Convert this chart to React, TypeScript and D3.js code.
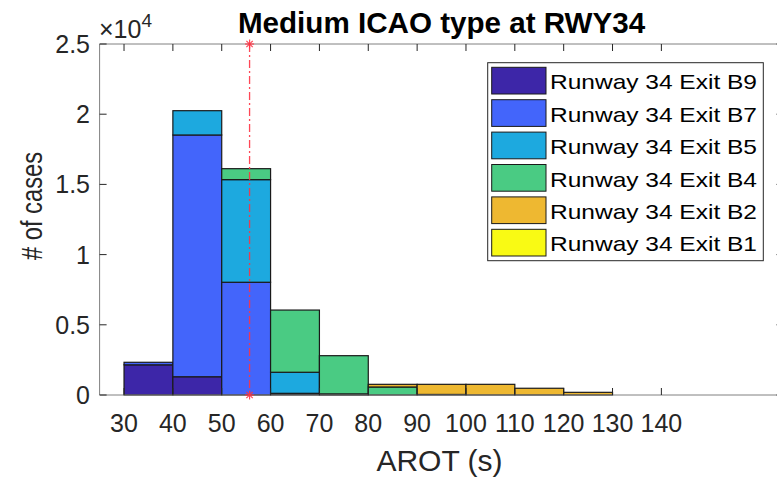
import React from "react";
import * as d3 from "d3";

// ---- data ----
const binStarts = [30, 40, 50, 60, 70, 80, 90, 100, 110, 120];
const binWidth = 10;
const seriesNames = [
  "Runway 34 Exit B9",
  "Runway 34 Exit B7",
  "Runway 34 Exit B5",
  "Runway 34 Exit B4",
  "Runway 34 Exit B2",
  "Runway 34 Exit B1",
];
const exitB9 = [2150, 1300, 0, 60, 20, 0, 0, 0, 0, 0];
const exitB7 = [180, 17220, 8030, 60, 20, 0, 0, 0, 0, 0];
const exitB5 = [0, 1730, 7310, 1500, 40, 0, 0, 0, 0, 0];
const exitB4 = [0, 0, 780, 4430, 2720, 570, 40, 0, 0, 0];
const exitB2 = [0, 0, 0, 0, 0, 190, 720, 760, 480, 190];
const exitB1 = [0, 0, 0, 0, 0, 0, 0, 0, 0, 0];
const seriesValues = [exitB9, exitB7, exitB5, exitB4, exitB2, exitB1];
const seriesColors = ["#3D26A8", "#4365FB", "#1DA9DF", "#4ACB83", "#EEB831", "#F9FA14"];
const xTicks = [30, 40, 50, 60, 70, 80, 90, 100, 110, 120, 130, 140];
const yTicks = [0, 5000, 10000, 15000, 20000, 25000];
const yTickLabels = ["0", "0.5", "1", "1.5", "2", "2.5"];
const medianArot = 55.7;
const titleText = "Medium ICAO type at RWY34";
const xLabel = "AROT (s)";
const yLabel = "# of cases";

const W = 777;
const H = 477;
const FONT = "'Liberation Sans', Arial, Helvetica, sans-serif";

export default function App() {
  const left = 99.6;
  const top = 44;
  const bottom = 395;
  const x = d3.scaleLinear().domain([25, 165]).range([left, left + 140 * 4.885]);
  const y = d3.scaleLinear().domain([0, 25000]).range([bottom, top]);
  const right = x(165);

  const table = binStarts.map((b, i) => {
    const row: any = { bin: b };
    seriesNames.forEach((n, k) => (row[n] = seriesValues[k][i]));
    return row;
  });
  const stacked = d3.stack<any>().keys(seriesNames)(table);

  const tickLen = 7;
  const axisColor = "#262626";

  const star = (cx: number, cy: number, r: number) =>
    [0, 45, 90, 135].map((a) => {
      const rad = (a * Math.PI) / 180;
      return (
        <line
          key={a}
          x1={cx - r * Math.cos(rad)}
          y1={cy - r * Math.sin(rad)}
          x2={cx + r * Math.cos(rad)}
          y2={cy + r * Math.sin(rad)}
        />
      );
    });

  const legX = 487.7;
  const legY = 62.7;
  const legW = 275.6;
  const legH = 198;
  const rowPitch = 32.4;

  return (
    <svg
      width={W}
      height={H}
      style={{ position: "absolute", left: 0, top: 0, background: "#fff" }}
      fontFamily={FONT}
    >
      <rect x={0} y={0} width={W} height={H} fill="#fff" />
      {/* bars */}
      <g>
        {stacked.map((s, k) =>
          s.map((d, i) =>
            d[1] - d[0] > 0 ? (
              <rect
                key={`${k}-${i}`}
                x={x(binStarts[i])}
                y={y(d[1])}
                width={x(binStarts[i] + binWidth) - x(binStarts[i])}
                height={y(d[0]) - y(d[1])}
                fill={seriesColors[k]}
                stroke="#1a1a1a"
                strokeWidth={1.2}
              />
            ) : null
          )
        )}
      </g>
      {/* axes box */}
      <g stroke={axisColor} strokeWidth={1} fill="none">
        <line x1={left} y1={bottom} x2={right} y2={bottom} stroke="#808080" />
        <line x1={left} y1={top} x2={right} y2={top} stroke="#808080" />
        <line x1={left} y1={top} x2={left} y2={bottom} stroke="#808080" />
        <line x1={right} y1={top} x2={right} y2={bottom} stroke="#808080" />
        {xTicks.map((t) => (
          <g key={t}>
            <line x1={x(t)} y1={bottom} x2={x(t)} y2={bottom - tickLen} />
            <line x1={x(t)} y1={top} x2={x(t)} y2={top + tickLen} />
          </g>
        ))}
        {yTicks.map((t) => (
          <g key={t}>
            <line x1={left} y1={y(t)} x2={left + tickLen} y2={y(t)} />
            <line x1={right} y1={y(t)} x2={right - tickLen} y2={y(t)} />
          </g>
        ))}
      </g>
      {/* median line */}
      <g stroke="#ff3344" strokeOpacity={0.9} fill="none">
        <line
          x1={x(medianArot)}
          y1={y(25000)}
          x2={x(medianArot)}
          y2={y(0)}
          strokeWidth={1.3}
          strokeDasharray="8 3 2 3"
        />
        <g strokeWidth={1.2}>
          {star(x(medianArot), y(25000), 4.5)}
          {star(x(medianArot), y(0), 4.5)}
        </g>
      </g>
      {/* tick labels */}
      <g fill={axisColor} fontSize={25}>
        {xTicks.map((t) => (
          <text key={t} x={x(t)} y={431.5} textAnchor="middle">
            {t}
          </text>
        ))}
        {yTicks.map((t, i) => (
          <text key={t} x={90} y={y(t) + 9} textAnchor="end">
            {yTickLabels[i]}
          </text>
        ))}
      </g>
      {/* exponent */}
      <text x={99} y={37.5} fontSize={25} fill={axisColor}>
        ×10
        <tspan fontSize={19} dy={-11}>
          4
        </tspan>
      </text>
      {/* title */}
      <text
        x={(left + right) / 2}
        y={33}
        textAnchor="middle"
        fontSize={29.6}
        fontWeight="bold"
        fill="#000"
      >
        {titleText}
      </text>
      {/* axis labels */}
      <text x={439.5} y={470.5} textAnchor="middle" fontSize={30} fill={axisColor}>
        {xLabel}
      </text>
      <text
        transform="translate(41.5,206) rotate(-90)"
        textAnchor="middle"
        fontSize={29}
        fill={axisColor}
        textLength={108}
        lengthAdjust="spacingAndGlyphs"
      >
        {yLabel}
      </text>
      {/* legend */}
      <g>
        <rect x={legX} y={legY} width={legW} height={legH} fill="#fff" stroke="#262626" strokeWidth={1} />
        {seriesNames.map((n, k) => (
          <g key={n}>
            <rect
              x={491.7}
              y={67.3 + k * rowPitch}
              width={54.3}
              height={26.7}
              fill={seriesColors[k]}
              stroke="#1a1a1a"
              strokeWidth={1}
            />
            <text
              x={550}
              y={89.3 + k * rowPitch}
              fontSize={21}
              fill="#000"
              textLength={207}
              lengthAdjust="spacingAndGlyphs"
            >
              {n}
            </text>
          </g>
        ))}
      </g>
    </svg>
  );
}
